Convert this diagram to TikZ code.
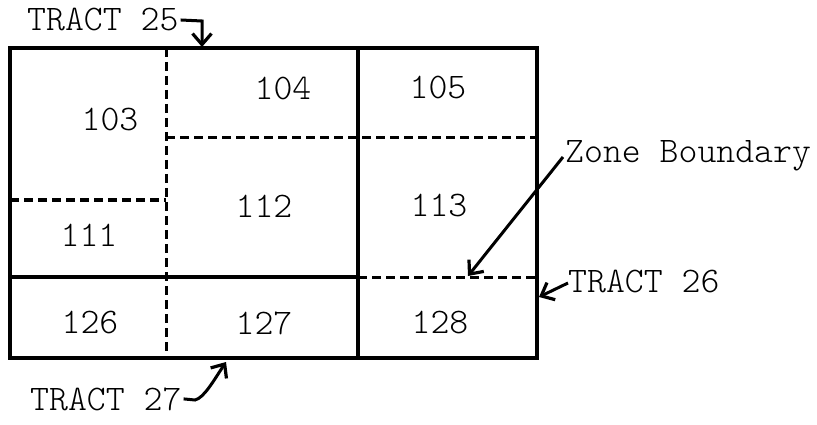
\documentclass[tikz,border=0pt]{standalone}
\usepackage{fontspec}
\usetikzlibrary{arrows.meta}
\newfontfamily\lbff{Latin Modern Mono Light}
\newcommand{\lbfont}{\lbff\fontsize{36}{40}\selectfont}
\begin{document}
\begin{tikzpicture}[x=1pt,y=-1pt,
  lbl/.style={font=\lbfont, inner sep=0pt},
  solidln/.style={line width=3.2pt, line cap=rect},
  dashln/.style={line width=3pt, dash pattern=on 9pt off 5pt},
  arr/.style={line width=3pt, -{Straight Barb[length=11pt,width=19pt,line width=3.2pt]}}]
\useasboundingbox (0,0) rectangle (817,425);
% grid corners
\coordinate (tl) at (10,48);
\coordinate (br) at (537,358);
% solid lines
\draw[solidln] (tl) rectangle (br);
\draw[solidln] (358,48) -- (358,358);
\draw[solidln] (10,277) -- (358,277);
% dashed lines
\draw[dashln] (166,48) -- (166,358);
\draw[dashln] (358,277) -- (537,277);
\draw[dashln] (166,138) -- (537,138);
\draw[dashln] (10,200) -- (166,200);
% cell labels
\node[lbl] (c103) at (110,120) {103};
\node[lbl] (c104) at (283,88) {104};
\node[lbl] (c105) at (438,88) {105};
\node[lbl] (c111) at (89,235) {111};
\node[lbl] (c112) at (264,206) {112};
\node[lbl] (c113) at (439,206) {113};
\node[lbl] (c126) at (90,323) {126};
\node[lbl] (c127) at (264,323) {127};
\node[lbl] (c128) at (440,323) {128};
% outer labels
\node[lbl,anchor=base west] (t25) at (27,31) {TRACT 25};
\node[lbl,anchor=base west] (t27) at (30,410) {TRACT 27};
\node[lbl,anchor=base west] (zb) at (565,163) {Zone Boundary};
\node[lbl,anchor=base west] (t26) at (568,292) {TRACT 26};
% arrow ends
\coordinate (a25) at (202,47);
\coordinate (a27) at (226,362);
\coordinate (azb) at (468,276);
\coordinate (a26) at (539,297);
\coordinate (szb) at (563,157);
\coordinate (s26) at (568,283);
\draw[arr] ([xshift=2pt]t25.east) -- (202,21) -- (a25);
\draw[arr] ([xshift=2pt]t27.east) -- (195,400) .. controls (204,398) and (214,380) .. (a27);
\draw[arr] (szb) -- (azb);
\draw[arr] (s26) -- (a26);
\end{tikzpicture}
\end{document}
